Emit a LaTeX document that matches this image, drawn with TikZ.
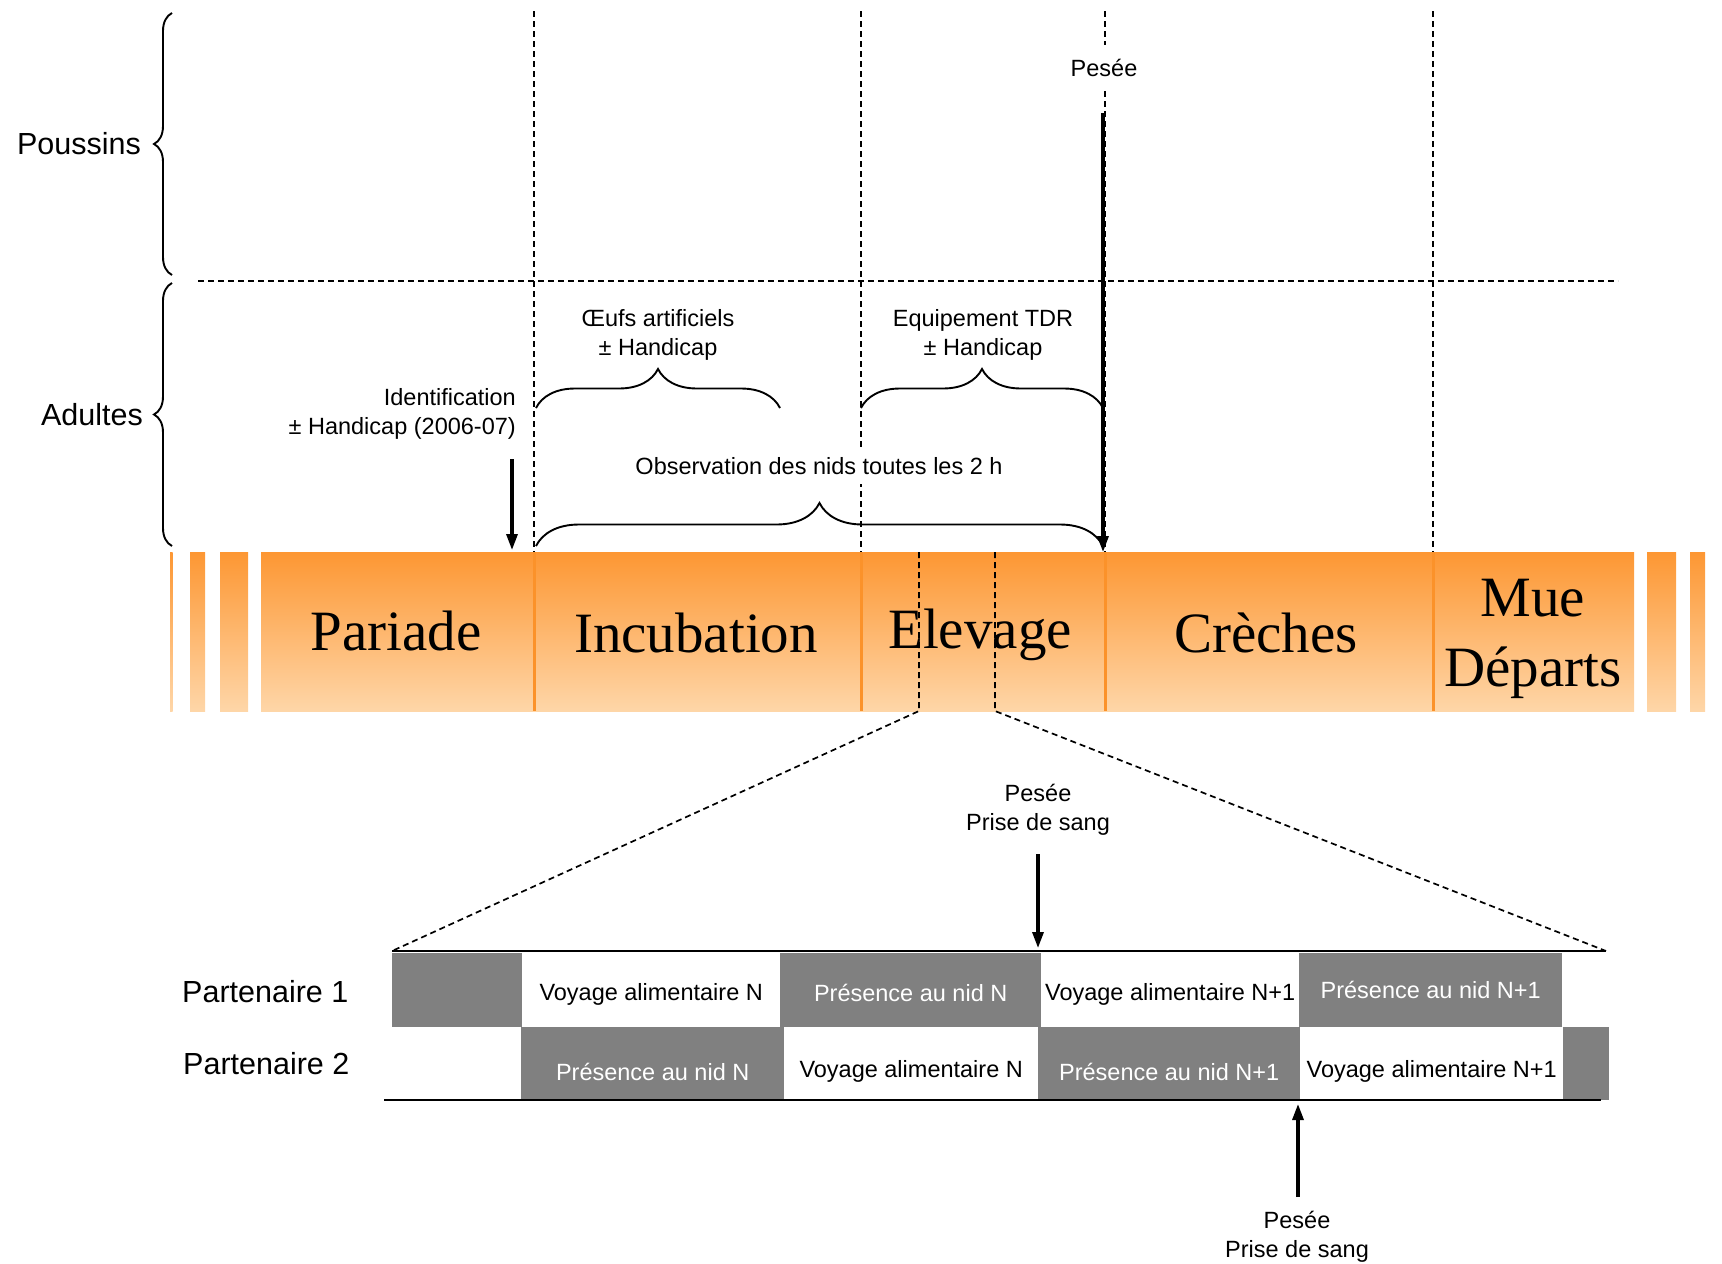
\documentclass[tikz,border=0pt]{standalone}
\usepackage{fontspec}
\setmainfont{Liberation Sans}
\newfontfamily\phasefont{Liberation Serif}
\usetikzlibrary{decorations.pathreplacing,arrows.meta}
\definecolor{orTop}{RGB}{253,151,51}
\definecolor{orBot}{RGB}{254,214,168}
\definecolor{orLine}{RGB}{251,146,42}
\definecolor{boxgray}{RGB}{128,128,128}
\begin{document}
\begin{tikzpicture}[x=1pt,y=-1pt,
  dashline/.style={dash pattern=on 6pt off 4pt, line width=1.7pt},
  bigarrow/.style={-{Triangle[length=16pt,width=11pt]}, line width=3.2pt},
  lbl/.style={font=\fontsize{23.5}{29}\selectfont, align=center, inner sep=0pt},
  side/.style={font=\fontsize{30.5}{36}\selectfont, inner sep=0pt},
  phase/.style={font=\phasefont\fontsize{57}{70}\selectfont, inner sep=0pt, anchor=base},
  seg/.style={top color=orTop, bottom color=orBot, draw=none, inner sep=0pt, anchor=north west, minimum height=159pt},
  sepline/.style={draw=orLine, line width=3pt},
  bracestyle/.style={decorate, decoration={brace, amplitude=#1}, line width=1.9pt},
  boxcell/.style={inner sep=0pt, anchor=north west},
  gbox/.style={boxcell, fill=boxgray},
  wbox/.style={boxcell, fill=white},
  celltext/.style={inner sep=0pt, font=\fontsize{23.5}{28}\selectfont},
  gtext/.style={celltext, text=white},
  wtext/.style={celltext, text=black},
  timeline/.style={line width=2.4pt}
]
\useasboundingbox (0,0) rectangle (1722,1264);

% ---------- dashed guides (top) ----------
\draw[dashline] (534,11) -- (534,552);
\draw[dashline] (861,11) -- (861,552);
\draw[dashline] (1105,11) -- (1105,552);
\draw[dashline] (1433,11) -- (1433,552);
\draw[dashline] (198,281) -- (1618,281);

% ---------- left braces ----------
\draw[bracestyle=18pt] (172,275) -- (172,13);
\draw[bracestyle=18pt] (172,546) -- (172,283);
\node[side, anchor=east] (poussins) at (141,144) {Poussins};
\node[side, anchor=east] (adultes) at (143,415) {Adultes};

% ---------- labels and braces (adults) ----------
\node[lbl, align=right, anchor=east] (ident) at (516,414) {Identification\\± Handicap (2006-07)};
\coordinate (identA) at (512,459);
\coordinate (identB) at (512,550);
\draw[bigarrow] (identA) -- (identB);

\node[lbl] (oeufs) at (658,335) {Œufs artificiels\\± Handicap};
\draw[bracestyle=39pt] (536,408) -- (780,408);
\node[lbl] (tdr) at (983,335) {Equipement TDR\\± Handicap};
\draw[bracestyle=39pt] (861,408) -- (1103,408);
\node[lbl, fill=white, inner xsep=2pt, inner ysep=9pt] (obs) at (819,466) {Observation des nids toutes les 2 h};
\draw[bracestyle=43pt] (536,546) -- (1103,546);

\node[lbl, fill=white, inner xsep=3pt, inner ysep=14pt] (pesee0) at (1104,68) {Pesée};
\coordinate (peseeA) at (1103,113);
\coordinate (peseeB) at (1103,552);
\draw[bigarrow] (peseeA) -- (peseeB);

% ---------- phase bar ----------
\shade[top color=orTop, bottom color=orBot] (170,552) rectangle (172.5,711);
\shade[top color=orTop, bottom color=orBot] (190,552) rectangle (205,711);
\shade[top color=orTop, bottom color=orBot] (220,552) rectangle (248,711);
\shade[top color=orTop, bottom color=orBot] (1647,552) rectangle (1676,711);
\shade[top color=orTop, bottom color=orBot] (1690,552) rectangle (1705,711);
\node[seg, minimum width=273pt] (segP) at (261,552) {};
\node[seg, minimum width=327pt] (segI) at (534,552) {};
\node[seg, minimum width=244pt] (segE) at (861,552) {};
\node[seg, minimum width=328pt] (segC) at (1105,552) {};
\node[seg, minimum width=201pt] (segM) at (1433,552) {};
\draw[sepline] (segI.north west) -- (segI.south west);
\draw[sepline] (segE.north west) -- (segE.south west);
\draw[sepline] (segC.north west) -- (segC.south west);
\draw[sepline] (segM.north west) -- (segM.south west);

\node[phase] (pariade) at (396,650) {Pariade};
\node[phase] (incub) at (696,652) {Incubation};
\node[phase] (elev) at (980,648) {Elevage};
\node[phase] (creches) at (1266,652) {Crèches};
\node[phase] (mue) at (1533,616) {Mue};
\node[phase] (departs) at (1533,686) {Départs};

% ---------- zoom lines ----------
\draw[dashline] (919,552) -- (919,711) -- (392,951);
\draw[dashline] (995,552) -- (995,711) -- (1606,951);

% ---------- partner timelines ----------
\node[side, anchor=west] (p1) at (182,992) {Partenaire 1};
\node[side, anchor=west] (p2) at (183,1064) {Partenaire 2};

\node[gbox, minimum width=130pt, minimum height=74pt] (r1a) at (392,953) {};
\node[wbox, minimum width=258pt, minimum height=74pt] (r1b) at (522,953) {};
\node[gbox, minimum width=261pt, minimum height=74pt] (r1c) at (780,953) {};
\node[wbox, minimum width=258pt, minimum height=74pt] (r1d) at (1041,953) {};
\node[gbox, minimum width=263pt, minimum height=74pt] (r1e) at (1299,953) {};

\node[gbox, minimum width=263pt, minimum height=73pt] (r2a) at (521,1027) {};
\node[wbox, minimum width=254pt, minimum height=73pt] (r2b) at (784,1027) {};
\node[gbox, minimum width=262pt, minimum height=73pt] (r2c) at (1038,1027) {};
\node[wbox, minimum width=263pt, minimum height=73pt] (r2d) at (1300,1027) {};
\node[gbox, minimum width=46pt, minimum height=73pt] (r2e) at (1563,1027) {};

\node[wtext] (t1b) at ([yshift=-4pt]r1b.center) {Voyage alimentaire N};
\node[gtext] (t1c) at ([yshift=-3pt]r1c.center) {Présence au nid N};
\node[wtext] (t1d) at ([yshift=-4pt]r1d.center) {Voyage alimentaire N+1};
\node[gtext] (t1e) at ([yshift=0pt]r1e.center) {Présence au nid N+1};
\node[gtext] (t2a) at ([yshift=-8pt]r2a.center) {Présence au nid N};
\node[wtext] (t2b) at ([yshift=-8pt]r2b.center) {Voyage alimentaire N};
\node[gtext] (t2c) at ([yshift=-8pt]r2c.center) {Présence au nid N+1};
\node[wtext] (t2d) at ([yshift=-8pt]r2d.center) {Voyage alimentaire N+1};

\draw[timeline] (392,951) -- (1606,951);
\draw[timeline] (384,1100) -- (1601,1100);

% ---------- sampling arrows ----------
\node[lbl] (pesee1) at (1038,810) {Pesée\\Prise de sang};
\coordinate (p1A) at (1038,854);
\coordinate (p1B) at (1038,948);
\draw[bigarrow] (p1A) -- (p1B);

\node[lbl] (pesee2) at (1297,1237) {Pesée\\Prise de sang};
\coordinate (p2A) at (1298,1197);
\coordinate (p2B) at (1298,1104);
\draw[bigarrow] (p2A) -- (p2B);
\end{tikzpicture}
\end{document}
